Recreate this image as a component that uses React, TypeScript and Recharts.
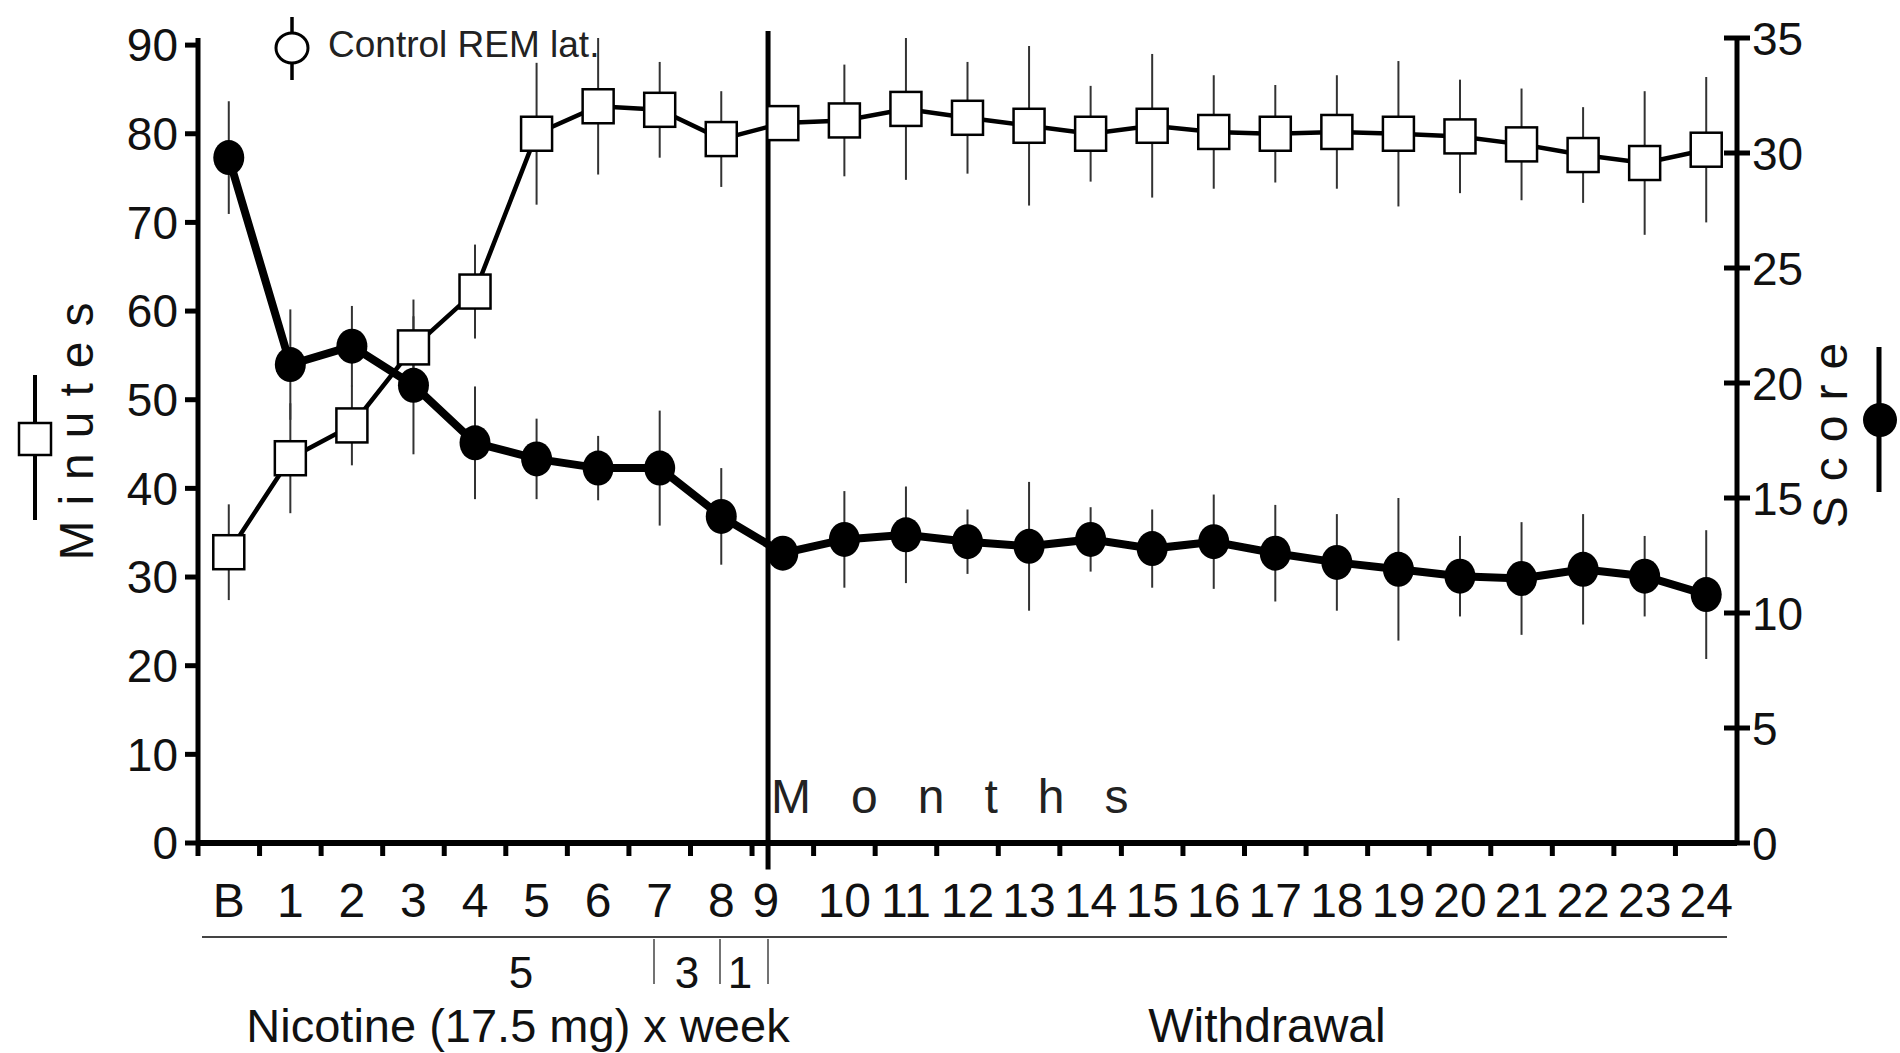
import {
  ComposedChart,
  Line,
  XAxis,
  YAxis,
  ErrorBar,
  ReferenceLine
} from 'recharts';

// month labels along the x axis (B = baseline)
const xLabels = ['B', '1', '2', '3', '4', '5', '6', '7', '8', '9', '10', '11', '12',
  '13', '14', '15', '16', '17', '18', '19', '20', '21', '22', '23', '24'];

// REM latency, minutes (open squares, left axis)
const minutes = [32.8, 43.4, 47.1, 55.9, 62.2, 80.0, 83.1, 82.7, 79.4, 81.2, 81.5, 82.8, 81.8,
  80.9, 80.0, 80.9, 80.2, 80.0, 80.2, 80.0, 79.7, 78.8, 77.6, 76.7, 78.2];
const minutesErr = [5.4, 6.2, 4.5, 5.4, 5.3, 8.0, 7.7, 5.4, 5.4, 0, 6.3, 8.0, 6.3,
  9.0, 5.4, 8.1, 6.4, 5.5, 6.4, 8.2, 6.4, 6.3, 5.4, 8.1, 8.2];

// score (filled circles, right axis)
const score = [29.8, 20.8, 21.6, 19.9, 17.4, 16.7, 16.3, 16.3, 14.2, 12.6, 13.2, 13.4, 13.1,
  12.9, 13.2, 12.8, 13.1, 12.6, 12.2, 11.9, 11.6, 11.5, 11.9, 11.6, 10.8];
const scoreErr = [2.45, 2.4, 1.75, 3.0, 2.45, 1.75, 1.4, 2.5, 2.1, 0, 2.1, 2.1, 1.4,
  2.8, 1.4, 1.7, 2.05, 2.1, 2.1, 3.1, 1.75, 2.45, 2.4, 1.75, 2.8];

const leftTicks = [0, 10, 20, 30, 40, 50, 60, 70, 80, 90];
const rightTicks = [0, 5, 10, 15, 20, 25, 30, 35];
const xTicks = xLabels.map((_, i) => i);

// month at which withdrawal starts (drawn slightly left of the "9" point)
const withdrawalAt = 8.76;

const FONT = '"Liberation Sans", Arial, sans-serif';
const W = 1900;
const H = 1053;
const PLOT_LEFT = 198;
const PLOT_RIGHT = 1737;
const PLOT_TOP = 38;
const PLOT_BOTTOM = 843;
const BAND = (PLOT_RIGHT - PLOT_LEFT) / xLabels.length;

const rows = xLabels.map((label, i) => ({
  idx: i,
  label,
  minutes: minutes[i],
  minutesErr: minutesErr[i],
  score: score[i],
  scoreErr: scoreErr[i]
}));

function XTick({ x, y, payload }: any) {
  const v = payload.value as number;
  const dx = v === 9 ? -17 : 0;
  return (
    <g>
      <line x1={x - BAND / 2} x2={x - BAND / 2} y1={y} y2={y + 13} stroke="#000" strokeWidth={5} />
      <text x={x + dx} y={y + 74} textAnchor="middle" fontSize={48} fontFamily={FONT} fill="#111">
        {xLabels[v]}
      </text>
    </g>
  );
}

function RightTick({ x, y, payload }: any) {
  return (
    <g>
      <line x1={x - 13} x2={x + 13} y1={y} y2={y} stroke="#000" strokeWidth={5} />
      <text x={x + 15} y={y} dy="0.36em" fontSize={46} fontFamily={FONT} fill="#111">
        {payload.value}
      </text>
    </g>
  );
}

function SquareDot(props: any) {
  const { cx, cy, index } = props;
  if (cx == null || cy == null) return <g key={`sq-${index}`} />;
  return (
    <rect key={`sq-${index}`} x={cx - 15.5} y={cy - 17} width={31} height={34}
      fill="#fff" stroke="#000" strokeWidth={2.5} />
  );
}

function CircleDot(props: any) {
  const { cx, cy, index } = props;
  if (cx == null || cy == null) return <g key={`ci-${index}`} />;
  return <ellipse key={`ci-${index}`} cx={cx} cy={cy} rx={15.5} ry={17.5} fill="#000" />;
}

function Annotations() {
  return (
    <svg width={W} height={H} style={{ position: 'absolute', left: 0, top: 0, pointerEvents: 'none' }}>
      {/* control legend */}
      <line x1={292} x2={292} y1={17} y2={80} stroke="#000" strokeWidth={3.5} />
      <ellipse cx={292} cy={48} rx={16} ry={15} fill="#fff" stroke="#000" strokeWidth={3} />
      <text x={328} y={57} fontSize={37} fontFamily={FONT} fill="#222">Control REM lat.</text>

      {/* left axis title + symbol */}
      <line x1={35} x2={35} y1={375} y2={520} stroke="#000" strokeWidth={4} />
      <rect x={19} y={423} width={32} height={32} fill="#fff" stroke="#000" strokeWidth={2.5} />
      <text x={93} y={424} transform="rotate(-90, 93, 424)" textAnchor="middle"
        fontSize={48} letterSpacing={15} fontFamily={FONT} fill="#111">Minutes</text>

      {/* right axis title + symbol */}
      <text x={1847} y={428} transform="rotate(-90, 1847, 428)" textAnchor="middle"
        fontSize={48} letterSpacing={15} fontFamily={FONT} fill="#111">Score</text>
      <line x1={1879} x2={1879} y1={347} y2={492} stroke="#000" strokeWidth={5} />
      <ellipse cx={1880} cy={420} rx={17} ry={17} fill="#000" />

      <text x={771} y={813} fontSize={48} letterSpacing={40} fontFamily={FONT} fill="#222">Months</text>

      {/* treatment schedule */}
      <line x1={202} x2={1727} y1={937} y2={937} stroke="#444" strokeWidth={2} />
      <line x1={654} x2={654} y1={939} y2={984} stroke="#444" strokeWidth={1.5} />
      <line x1={720} x2={720} y1={939} y2={984} stroke="#444" strokeWidth={1.5} />
      <line x1={768} x2={768} y1={939} y2={984} stroke="#444" strokeWidth={1.5} />
      <text x={521} y={988} textAnchor="middle" fontSize={44} fontFamily={FONT} fill="#111">5</text>
      <text x={687} y={988} textAnchor="middle" fontSize={44} fontFamily={FONT} fill="#111">3</text>
      <text x={740} y={988} textAnchor="middle" fontSize={44} fontFamily={FONT} fill="#111">1</text>
      <text x={518} y={1042} textAnchor="middle" fontSize={47} fontFamily={FONT} fill="#111">
        Nicotine (17.5 mg) x week
      </text>
      <text x={1267} y={1042} textAnchor="middle" fontSize={48} fontFamily={FONT} fill="#111">
        Withdrawal
      </text>
    </svg>
  );
}

export default function App() {
  return (
    <div style={{ position: 'absolute', left: 0, top: 0, width: W, height: H, background: '#fff' }}>
      <ComposedChart
        width={W}
        height={H}
        data={rows}
        margin={{ top: PLOT_TOP, left: PLOT_LEFT - 1, right: W - PLOT_RIGHT - 1, bottom: H - PLOT_BOTTOM - 1 }}
      >
        <XAxis
          dataKey="idx"
          type="number"
          domain={[-0.5, 24.5]}
          ticks={xTicks}
          interval={0}
          height={1}
          tickSize={0}
          tickMargin={0}
          tickLine={false}
          tick={<XTick />}
          axisLine={{ stroke: '#000', strokeWidth: 6 }}
        />
        <YAxis
          yAxisId="left"
          domain={[0, 90]}
          ticks={leftTicks}
          interval={0}
          width={1}
          tickSize={13}
          tickMargin={7}
          tickLine={{ stroke: '#000', strokeWidth: 5 }}
          axisLine={{ stroke: '#000', strokeWidth: 5 }}
          tick={{ fill: '#111', fontSize: 46, fontFamily: FONT }}
        />
        <YAxis
          yAxisId="right"
          orientation="right"
          domain={[0, 35]}
          ticks={rightTicks}
          interval={0}
          width={1}
          tickSize={0}
          tickMargin={0}
          tickLine={false}
          tick={<RightTick />}
          axisLine={{ stroke: '#000', strokeWidth: 5 }}
        />
        <Line
          yAxisId="left"
          dataKey="minutes"
          stroke="#000"
          strokeWidth={4.5}
          type="linear"
          dot={SquareDot}
          activeDot={false}
          isAnimationActive={false}
        >
          <ErrorBar dataKey="minutesErr" direction="y" width={0} stroke="#333" strokeWidth={2} />
        </Line>
        <Line
          yAxisId="right"
          dataKey="score"
          stroke="#000"
          strokeWidth={8}
          type="linear"
          dot={CircleDot}
          activeDot={false}
          isAnimationActive={false}
        >
          <ErrorBar dataKey="scoreErr" direction="y" width={0} stroke="#333" strokeWidth={2} />
        </Line>
        <ReferenceLine
          yAxisId="left"
          segment={[{ x: withdrawalAt, y: -3 }, { x: withdrawalAt, y: 91.6 }]}
          stroke="#000"
          strokeWidth={5}
          ifOverflow="visible"
        />
      </ComposedChart>
      <Annotations />
    </div>
  );
}
